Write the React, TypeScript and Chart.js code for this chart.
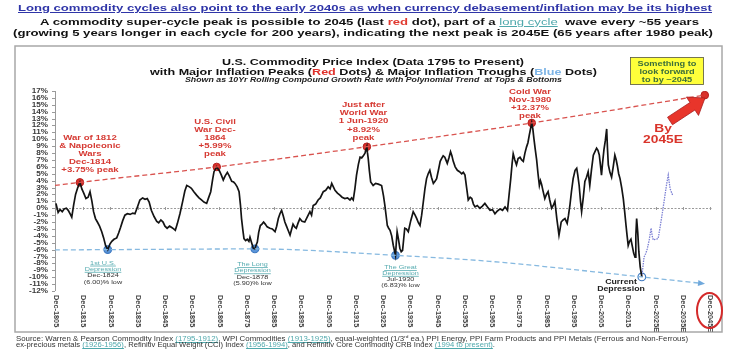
import React, { useEffect, useLayoutEffect, useRef } from 'react';
import { Chart, registerables } from 'chart.js';

Chart.register(...registerables);

const FONT = '"Liberation Sans", Arial, Helvetica, sans-serif';

// ---------------- DATA (10yr rolling compound growth rate, %) ----------------
const historyYears = [
  1805.9, 1806.7, 1807.4, 1808.2, 1808.9, 1809.7, 1810.4, 1811.2, 1811.7, 1812.4,
  1813.1, 1813.9, 1814.7, 1815.4, 1816.1, 1816.9, 1817.7, 1818.4, 1819.1, 1819.7,
  1820.4, 1821.1, 1821.9, 1822.7, 1823.4, 1824.1, 1824.9, 1825.7, 1826.4, 1827.2,
  1828.2, 1828.9, 1829.6, 1830.4, 1831.2, 1832.1, 1833.1, 1834.1, 1834.9, 1835.9,
  1836.7, 1837.7, 1838.6, 1839.4, 1840.1, 1840.9, 1841.9, 1842.9, 1843.6, 1844.4,
  1845.2, 1845.9, 1846.7, 1847.6, 1848.4, 1849.1, 1849.7, 1850.4, 1851.4, 1852.4,
  1853.2, 1853.9, 1854.9, 1855.6, 1856.5, 1857.5, 1858.4, 1859.3, 1860.2, 1861.2,
  1861.9, 1862.7, 1863.4, 1863.9, 1864.9, 1865.4, 1865.9, 1866.6, 1867.3, 1868.0,
  1868.8, 1869.5, 1870.4, 1871.1, 1871.6, 1872.4, 1873.1, 1873.6, 1874.0, 1874.5,
  1874.9, 1875.5, 1876.1, 1876.7, 1877.1, 1877.7, 1878.3, 1878.9, 1879.3, 1879.8,
  1880.3, 1880.9, 1881.5, 1882.1, 1882.7, 1883.4, 1884.4, 1885.3, 1886.3, 1886.9,
  1887.5, 1888.1, 1888.7, 1889.3, 1889.9, 1890.5, 1891.1, 1891.8, 1892.4, 1892.9,
  1893.5, 1894.1, 1894.7, 1895.4, 1896.2, 1897.2, 1898.1, 1899.1, 1899.7, 1900.3,
  1901.2, 1902.1, 1902.9, 1904.0, 1904.9, 1905.8, 1906.5, 1907.1, 1907.7, 1908.3,
  1909.2, 1910.1, 1910.9, 1911.9, 1912.9, 1913.8, 1914.4, 1915.0, 1915.6, 1916.2,
  1916.9, 1917.5, 1918.1, 1918.7, 1919.3, 1920.0, 1920.2, 1920.5, 1920.9, 1921.4,
  1922.3, 1923.2, 1924.2, 1925.4, 1926.1, 1926.6, 1927.1, 1927.5, 1928.0, 1928.5,
  1929.1, 1929.7, 1930.5, 1930.8, 1931.1, 1931.6, 1932.1, 1932.6, 1933.1, 1933.5,
  1933.9, 1934.5, 1935.2, 1936.1, 1937.0, 1937.7, 1938.3, 1938.9, 1939.5, 1940.1,
  1940.7, 1941.3, 1941.9, 1942.5, 1943.1, 1943.7, 1944.4, 1945.0, 1945.6, 1946.4,
  1946.9, 1947.4, 1948.0, 1948.6, 1949.1, 1949.5, 1950.1, 1950.7, 1951.2, 1951.7,
  1952.4, 1953.2, 1954.0, 1954.8, 1955.4, 1956.0, 1956.6, 1957.2, 1957.9, 1958.5,
  1959.1, 1959.7, 1960.5, 1961.5, 1962.4, 1963.3, 1964.2, 1965.2, 1966.1, 1967.0,
  1967.9, 1968.9, 1969.8, 1970.7, 1971.6, 1972.2, 1972.8, 1973.3, 1973.7, 1974.3,
  1974.9, 1975.5, 1976.2, 1976.8, 1977.4, 1978.0, 1978.6, 1979.1, 1979.6, 1980.1,
  1980.5, 1980.9, 1981.3, 1981.8, 1982.3, 1982.8, 1983.3, 1983.7, 1984.1, 1984.7,
  1985.3, 1985.9, 1986.5, 1987.1, 1987.8, 1988.4, 1989.0, 1989.7, 1990.5, 1990.9,
  1991.3, 1992.0, 1992.7, 1993.5, 1994.0, 1994.5, 1995.1, 1995.7, 1996.4, 1997.0,
  1997.4, 1997.9, 1998.4, 1998.8, 1999.4, 2000.0, 2000.6, 2001.2, 2001.8, 2002.4,
  2003.1, 2003.7, 2004.3, 2004.8, 2005.3, 2005.7, 2006.1, 2006.5, 2007.0, 2007.5,
  2008.0, 2008.3, 2008.6, 2009.2, 2009.8, 2010.4, 2011.0, 2011.5, 2011.9, 2012.4,
  2012.9, 2013.5, 2014.1, 2014.6, 2015.1, 2015.5, 2015.9, 2016.4, 2016.9, 2017.4,
  2017.9, 2018.4, 2018.7, 2019.0, 2019.4, 2019.8, 2020.3, 2020.9,
];
const historyValues = [
  0.7, -0.6, -0.2, -0.5, -0.1, 0.0, -0.3, -0.9, -1.3, 0.5,
  2.0, 3.0, 3.75, 2.8, 2.2, 1.4, 1.6, 2.4, 1.0, -0.5,
  -1.5, -2.0, -2.6, -3.4, -4.3, -5.4, -6.0, -5.2, -4.8, -4.5,
  -4.3, -3.6, -2.8, -1.8, -1.0, -0.8, -0.9, -0.7, -0.8, 0.3,
  1.2, 1.5, 1.3, 1.4, 0.9, -0.3, -1.2, -1.9, -2.1, -1.7,
  -2.0, -2.6, -2.9, -2.6, -2.8, -3.0, -3.2, -2.3, -0.8, 1.0,
  2.5, 3.3, 3.1, 2.9, 2.4, 1.9, 1.5, 1.2, 0.9, 0.7,
  1.5, 2.4, 4.2, 5.3, 5.99, 5.7, 5.4, 4.8, 4.1, 4.7,
  5.2, 4.7, 3.9, 3.8, 3.6, 3.1, 2.4, 0.5, -1.5, -3.2,
  -4.4, -4.7, -4.5, -4.8, -4.2, -5.0, -5.8, -5.9, -5.4, -4.9,
  -3.5, -2.5, -2.3, -2.0, -2.3, -2.7, -2.9, -3.0, -3.4, -2.6,
  -1.5, -0.8, -0.3, -1.1, -2.0, -2.6, -3.2, -3.9, -3.0, -2.3,
  -2.7, -2.9, -2.2, -1.5, -1.9, -2.0, -1.3, -0.5, -1.0, 0.4,
  0.6, 1.2, 1.5, 2.4, 2.6, 3.1, 2.8, 3.6, 3.1, 2.6,
  2.2, 1.9, 1.6, 1.4, 1.5, 1.2, 1.5, 1.2, 2.8, 4.8,
  6.4, 7.4, 7.3, 7.6, 8.0, 8.92, 8.1, 7.2, 5.5, 3.8,
  3.3, 3.6, 3.5, 3.3, 1.8, 0.4, -1.2, -2.5, -2.9, -3.2,
  -4.0, -5.4, -6.83, -5.0, -3.4, -4.5, -5.8, -6.3, -6.1, -4.5,
  -2.9, -3.0, -3.4, -1.8, -0.5, -1.0, -1.5, -2.1, -2.5, -1.0,
  0.9, 2.8, 4.3, 5.0, 5.5, 4.5, 3.6, 3.9, 4.3, 5.8,
  6.8, 7.2, 7.6, 7.4, 6.9, 6.5, 7.3, 8.2, 7.6, 6.8,
  6.0, 5.5, 5.3, 5.0, 5.2, 4.8, 3.0, 1.2, 1.6, 1.4,
  0.6, 0.2, 0.4, 0.0, 0.3, 0.7, 0.2, -0.3, -0.2, -0.8,
  -0.4, -0.1, -0.3, 0.2, -0.3, 2.0, 4.3, 6.5, 7.9, 7.0,
  6.3, 7.2, 7.4, 7.0, 6.8, 8.0, 8.9, 9.5, 10.6, 11.6,
  12.37, 11.5, 10.1, 8.5, 7.0, 5.0, 3.3, 4.0, 3.5, 2.4,
  1.4, 2.0, 2.4, 1.2, 0.0, 0.4, 1.0, -1.5, -3.9, -3.0,
  -2.0, -1.7, -1.5, -2.2, -1.0, 0.4, 2.5, 4.3, 5.5, 5.8,
  4.8, 3.3, 1.0, -0.5, 1.5, 3.9, 4.5, 5.3, 3.3, 5.5,
  7.7, 8.2, 8.7, 8.4, 7.7, 6.3, 4.8, 6.6, 8.5, 9.8,
  11.5, 8.6, 6.3, 5.2, 4.5, 6.0, 7.7, 7.0, 6.2, 5.0,
  4.3, 3.0, 1.4, -0.5, -2.5, -4.0, -5.4, -4.8, -4.5, -5.5,
  -6.5, -7.1, -4.0, -1.5, -3.5, -6.3, -8.5, -9.96,
];

const projectionYears = [
  2020.9, 2021.3, 2021.7, 2022.3, 2022.9, 2023.6, 2024.3, 2024.7, 2025.1, 2025.9,
  2026.9, 2027.7, 2028.5, 2029.4, 2030.0, 2030.6, 2031.0, 2031.3, 2032.2,
];
const projectionValues = [
  -9.96, -8.5, -7.1, -6.6, -5.9, -4.6, -2.9, -4.0, -4.6, -4.5,
  -4.4, -2.5, -0.5, 1.9, 3.5, 4.8, 3.6, 2.8, 1.9,
];

const peakYears = [1814.7, 1864.9, 1920.0, 1980.5, 2044.0];
const peakValues = [3.75, 5.99, 8.92, 12.37, 16.4];
const peakTrendYears = [1805.5, 1814.7, 1864.9, 1920.0, 1980.5, 2044.0];
const peakTrendValues = [3.3, 3.75, 5.99, 8.92, 12.37, 16.4];

const troughYears = [1824.9, 1878.9, 1930.5, 2020.9];
const troughValues = [-6.0, -5.9, -6.83, -9.96];
const troughTrendYears = [1805.5, 1824.9, 1878.9, 1930.5, 1965.0, 2020.9, 2043.0];
const troughTrendValues = [-6.05, -6.0, -5.9, -6.83, -7.7, -9.96, -10.9];

const xTickYears = [
  1805, 1815, 1825, 1835, 1845, 1855, 1865, 1875, 1885, 1895, 1905, 1915, 1925,
  1935, 1945, 1955, 1965, 1975, 1985, 1995, 2005, 2015, 2025, 2035, 2045,
];
const estimateFromYear = 2025;
const yTickValues = [17, 16, 15, 14, 13, 12, 11, 10, 9, 8, 7, 6, 5, 4, 3, 2, 1, 0, -1, -2, -3, -4, -5, -6, -7, -8, -9, -10, -11, -12];

// ---------------- drawing helpers ----------------
type Seg = { t: string; c?: string; u?: boolean; w?: string };
type TextOpts = {
  size: number; weight?: string; style?: string; color: string;
  align?: 'left' | 'center' | 'right'; sx?: number; width?: number;
};

function drawRich(ctx: CanvasRenderingContext2D, segs: Seg[], x: number, y: number, o: TextOpts) {
  const fontFor = (s: Seg) => `${o.style || 'normal'} ${s.w || o.weight || 'normal'} ${o.size}px ${FONT}`;
  ctx.save();
  const widths = segs.map((s) => { ctx.font = fontFor(s); return ctx.measureText(s.t).width; });
  const raw = widths.reduce((a, b) => a + b, 0);
  const k = o.width ? o.width / raw : (o.sx ?? 1);
  const total = raw * k;
  const align = o.align || 'left';
  const start = align === 'center' ? x - total / 2 : align === 'right' ? x - total : x;
  ctx.translate(start, y);
  ctx.scale(k, 1);
  ctx.textAlign = 'left';
  ctx.textBaseline = 'middle';
  let cx = 0;
  segs.forEach((s, i) => {
    ctx.font = fontFor(s);
    const col = s.c || o.color;
    ctx.fillStyle = col;
    ctx.fillText(s.t, cx, 0);
    if (s.u) {
      ctx.strokeStyle = col;
      ctx.lineWidth = 0.7;
      ctx.beginPath();
      ctx.moveTo(cx, o.size * 0.52);
      ctx.lineTo(cx + widths[i], o.size * 0.52);
      ctx.stroke();
    }
    cx += widths[i];
  });
  ctx.restore();
}

function drawLines(ctx: CanvasRenderingContext2D, lines: (string | Seg[])[], x: number, y0: number, lh: number, o: TextOpts) {
  lines.forEach((ln, i) => {
    const segs = typeof ln === 'string' ? [{ t: ln }] : ln;
    drawRich(ctx, segs, x, y0 + i * lh, o);
  });
}

function blockArrow(ctx: CanvasRenderingContext2D, x0: number, y0: number, x1: number, y1: number, sh: number, hl: number, hh: number) {
  const L = Math.hypot(x1 - x0, y1 - y0);
  const ux = (x1 - x0) / L, uy = (y1 - y0) / L;
  const nx = -uy, ny = ux;
  const bx = x1 - ux * hl, by = y1 - uy * hl;
  ctx.beginPath();
  ctx.moveTo(x0 + nx * sh, y0 + ny * sh);
  ctx.lineTo(bx + nx * sh, by + ny * sh);
  ctx.lineTo(bx + nx * hh, by + ny * hh);
  ctx.lineTo(x1, y1);
  ctx.lineTo(bx - nx * hh, by - ny * hh);
  ctx.lineTo(bx - nx * sh, by - ny * sh);
  ctx.lineTo(x0 - nx * sh, y0 - ny * sh);
  ctx.closePath();
}

const RED = '#d63a33';
const TEAL = '#55abb0';
const SX = 1.28;

const decorPlugin = {
  id: 'decor',
  beforeDatasetsDraw(chart: any) {
    const { ctx, chartArea: a, scales } = chart;
    const xs = scales.x, ys = scales.y;
    ctx.save();
    // chart frame
    ctx.strokeStyle = '#a8a8a8';
    ctx.lineWidth = 1.5;
    ctx.strokeRect(15, 46, 707, 286);
    // zero line with tick marks
    const y0 = Math.round(ys.getPixelForValue(0)) + 0.5;
    ctx.strokeStyle = '#9a9a9a';
    ctx.lineWidth = 1;
    ctx.setLineDash([2, 1.5]);
    ctx.beginPath();
    ctx.moveTo(a.left, y0);
    ctx.lineTo(a.right, y0);
    ctx.stroke();
    ctx.setLineDash([]);
    xTickYears.forEach((yr) => {
      const px = Math.round(xs.getPixelForValue(yr + 11 / 12)) + 0.5;
      ctx.beginPath();
      ctx.moveTo(px, y0 - 1.5);
      ctx.lineTo(px, y0 + 1.5);
      ctx.stroke();
    });
    // y axis
    ctx.strokeStyle = '#9a9a9a';
    ctx.beginPath();
    ctx.moveTo(a.left + 0.5, a.top);
    ctx.lineTo(a.left + 0.5, a.bottom);
    ctx.stroke();
    yTickValues.forEach((v) => {
      const py = Math.round(ys.getPixelForValue(v)) + 0.5;
      ctx.beginPath();
      ctx.moveTo(a.left - 3, py);
      ctx.lineTo(a.left, py);
      ctx.stroke();
      drawRich(ctx, [{ t: `${v}%` }], a.left - 7, py, { size: 6.8, weight: 'bold', color: '#3a3a3a', align: 'right', sx: 1.2 });
    });
    // x labels (vertical)
    xTickYears.forEach((yr) => {
      const px = xs.getPixelForValue(yr + 11 / 12);
      const label = `Dec-${yr}${yr >= estimateFromYear ? 'E' : ''}`;
      ctx.save();
      ctx.translate(px, 295);
      ctx.rotate(Math.PI / 2);
      drawRich(ctx, [{ t: label }], 0, 0, { size: 7, weight: 'bold', color: '#444', align: 'left', sx: 1.05 });
      ctx.restore();
    });
    ctx.restore();
  },
  afterDatasetsDraw(chart: any) {
    const { ctx } = chart;
    // arrowhead at end of trough trend
    const meta = chart.getDatasetMeta(1);
    const pts = meta.data;
    if (pts.length > 1) {
      const p1 = pts[pts.length - 1], p0 = pts[pts.length - 2];
      const ang = Math.atan2(p1.y - p0.y, p1.x - p0.x);
      ctx.save();
      ctx.translate(p1.x, p1.y);
      ctx.rotate(ang);
      ctx.fillStyle = '#6fa8dc';
      ctx.beginPath();
      ctx.moveTo(3, 0);
      ctx.lineTo(-4, -3);
      ctx.lineTo(-4, 3);
      ctx.closePath();
      ctx.fill();
      ctx.restore();
    }
  },
  afterDraw(chart: any) {
    const { ctx } = chart;
    ctx.save();
    // titles
    drawRich(ctx, [{ t: 'U.S. Commodity Price Index (Data 1795 to Present)' }], 373, 62.5,
      { size: 9.5, weight: 'bold', color: '#111', align: 'center', width: 302 });
    drawRich(ctx, [
      { t: 'with Major Inflation Peaks (' }, { t: 'Red', c: '#e0302a' }, { t: ' Dots) & Major Inflation Troughs (' },
      { t: 'Blue', c: '#7db4e6' }, { t: ' Dots)' },
    ], 373.5, 72.5, { size: 9.5, weight: 'bold', color: '#111', align: 'center', width: 447 });
    drawRich(ctx, [{ t: 'Shown as 10Yr Rolling Compound Growth Rate with Polynomial Trend  at Tops & Bottoms' }], 373.5, 80,
      { size: 6.3, weight: 'bold', style: 'italic', color: '#222', align: 'center', width: 377 });

    // peak labels
    const po: TextOpts = { size: 7.5, weight: 'bold', color: RED, align: 'center', sx: SX };
    drawLines(ctx, ['War of 1812', '& Napoleonic', 'Wars', 'Dec-1814', '+3.75% peak'], 90, 137.5, 8.2, po);
    drawLines(ctx, ['U.S. Civil', 'War Dec-', '1864', '+5.99%', 'peak'], 215, 121.5, 8.2, po);
    drawLines(ctx, ['Just after', 'World War', '1 Jun-1920', '+8.92%', 'peak'], 363.5, 105, 8.2, po);
    drawLines(ctx, ['Cold War', 'Nov-1980', '+12.37%', 'peak'], 530, 91.5, 8.1, po);

    // trough labels
    const to: TextOpts = { size: 5.8, color: '#333', align: 'center', sx: 1.25 };
    drawLines(ctx, [[{ t: '1st U.S.', c: TEAL, u: true }], [{ t: 'Depression', c: TEAL, u: true }], 'Dec-1824', '(6.00)% low'], 103, 263, 6.3, to);
    drawLines(ctx, [[{ t: 'The Long', c: TEAL, u: true }], [{ t: 'Depression', c: TEAL, u: true }], 'Dec-1878', '(5.90)% low'], 252.5, 264.5, 6.2, to);
    drawLines(ctx, [[{ t: 'The Great', c: TEAL, u: true }], [{ t: 'Depression', c: TEAL, u: true }], 'Jul-1930', '(6.83)% low'], 400.5, 267.5, 5.8, to);
    drawLines(ctx, ['Current', 'Depression'], 621, 282.5, 6.8, { size: 7, weight: 'bold', color: '#222', align: 'center', sx: 1.25 });

    // yellow box
    ctx.fillStyle = '#ffff3a';
    ctx.fillRect(630, 57, 74, 28);
    ctx.strokeStyle = '#555';
    ctx.lineWidth = 0.8;
    ctx.strokeRect(630.5, 57.5, 73, 27);
    drawLines(ctx, ['Something to', 'look forward', 'to by ~2045'], 667, 64.5, 7.8, { size: 7.2, weight: 'bold', color: '#3b6e3b', align: 'center', sx: 1.28 });

    // red block arrow
    blockArrow(ctx, 670, 121, 705, 98, 4.5, 15, 11);
    ctx.fillStyle = '#e8352b';
    ctx.fill();
    ctx.strokeStyle = '#a81e1e';
    ctx.lineWidth = 0.8;
    ctx.stroke();
    drawLines(ctx, ['By', '2045E'], 663, 128.5, 11.5, { size: 11, weight: 'bold', color: '#d9342b', align: 'center', sx: 1.25 });

    // red ellipse around last x label
    ctx.strokeStyle = '#d42a2a';
    ctx.lineWidth = 2;
    ctx.beginPath();
    ctx.ellipse(709.5, 310.5, 12.5, 17.5, 0, 0, Math.PI * 2);
    ctx.stroke();
    ctx.restore();
  },
};

// ---------------- HTML text lines fitted to width ----------------
function FitLine(props: { left: number; right: number; cy: number; size: number; color: string; weight?: string; underline?: boolean; children: React.ReactNode }) {
  const ref = useRef<HTMLDivElement>(null);
  useLayoutEffect(() => {
    const el = ref.current;
    if (!el) return;
    el.style.transform = 'none';
    const w = el.getBoundingClientRect().width;
    if (w > 0) el.style.transform = `scaleX(${(props.right - props.left) / w})`;
  });
  return (
    <div
      ref={ref}
      style={{
        position: 'absolute', left: props.left, top: props.cy - props.size / 2, fontSize: props.size,
        lineHeight: `${props.size}px`, whiteSpace: 'nowrap', fontFamily: FONT, fontWeight: props.weight || 'bold',
        color: props.color, transformOrigin: 'left center', textDecoration: props.underline ? 'underline' : 'none',
      }}
    >
      {props.children}
    </div>
  );
}

const linkStyle: React.CSSProperties = { color: '#4fa8ac', textDecoration: 'underline' };

export default function App() {
  const canvasRef = useRef<HTMLCanvasElement>(null);

  useEffect(() => {
    const canvas = canvasRef.current;
    if (!canvas) return;
    const toXY = (xs: number[], vs: number[]) => xs.map((x, i) => ({ x, y: vs[i] }));
    const chart = new Chart(canvas, {
      type: 'line',
      data: {
        datasets: [
          {
            data: toXY(peakTrendYears, peakTrendValues), borderColor: '#d9534f', borderWidth: 1.3,
            borderDash: [5, 3], pointRadius: 0, cubicInterpolationMode: 'monotone', fill: false,
          },
          {
            data: toXY(troughTrendYears, troughTrendValues), borderColor: '#86b9e0', borderWidth: 1.3,
            borderDash: [5, 3], pointRadius: 0, cubicInterpolationMode: 'monotone', fill: false,
          },
          {
            data: toXY(historyYears, historyValues), borderColor: '#141414', borderWidth: 1.7,
            pointRadius: 0, tension: 0, fill: false,
          },
          {
            data: toXY(projectionYears, projectionValues), borderColor: '#7c80d4', borderWidth: 1.3,
            borderDash: [1.5, 1], pointRadius: 0, tension: 0, fill: false,
          },
          {
            data: toXY(peakYears, peakValues), showLine: false, pointRadius: 3.8,
            pointBackgroundColor: '#d9302a', pointBorderColor: '#b52020', pointBorderWidth: 1,
          },
          {
            data: toXY(troughYears, troughValues), showLine: false, pointRadius: 3.8,
            pointBackgroundColor: ['#5b95d9', '#5b95d9', '#5b95d9', '#ffffff'],
            pointBorderColor: '#3d78c0', pointBorderWidth: 1.2,
          },
        ],
      },
      options: {
        responsive: false,
        animation: false,
        devicePixelRatio: 1,
        events: [],
        layout: { padding: { left: 55, top: 91, right: 22, bottom: 59 } },
        scales: {
          x: { type: 'linear', display: false, min: 1805.55, max: 2046.65 },
          y: { type: 'linear', display: false, min: -12, max: 17 },
        },
        plugins: { legend: { display: false }, tooltip: { enabled: false }, title: { display: false } },
      },
      plugins: [decorPlugin],
    } as any);
    return () => chart.destroy();
  }, []);

  return (
    <div style={{ position: 'absolute', left: 0, top: 0, width: 734, height: 350, background: '#fff', overflow: 'hidden', fontFamily: FONT }}>
      <canvas ref={canvasRef} width={734} height={350} style={{ position: 'absolute', left: 0, top: 0, width: 734, height: 350 }} />
      <FitLine left={18} right={712} cy={7.5} size={9.5} color="#2f35a8" underline>
        Long commodity cycles also point to the early 2040s as when currency debasement/inflation may be its highest
      </FitLine>
      <FitLine left={40} right={699} cy={21.5} size={9.5} color="#111">
        A commodity super-cycle peak is possible to 2045 (last <span style={{ color: '#e0392f' }}>red</span> dot), part of a{' '}
        <span style={{ ...linkStyle, fontWeight: 'normal' }}>long cycle</span>{'\u00a0 '}wave every ~55 years
      </FitLine>
      <FitLine left={13} right={713} cy={33} size={9.5} color="#111">
        (growing 5 years longer in each cycle for 200 years), indicating the next peak is 2045E (65 years after 1980 peak)
      </FitLine>
      <FitLine left={16} right={688} cy={337.5} size={6.5} color="#333" weight="normal">
        Source: Warren &amp; Pearson Commodity Index <span style={linkStyle}>(1795-1912)</span>, WPI Commodities{' '}
        <span style={linkStyle}>(1913-1925)</span>, equal-weighted (1/3<sup style={{ fontSize: 4 }}>rd</sup> ea.) PPI Energy, PPI Farm Products and PPI Metals (Ferrous and Non-Ferrous)
      </FitLine>
      <FitLine left={16} right={495} cy={345.5} size={6.5} color="#333" weight="normal">
        ex-precious metals <span style={linkStyle}>(1926-1956)</span>, Refinitiv Equal Weight (CCI) Index{' '}
        <span style={linkStyle}>(1956-1994)</span>, and Refinitiv Core Commodity CRB Index <span style={linkStyle}>(1994 to present)</span>.
      </FitLine>
    </div>
  );
}
